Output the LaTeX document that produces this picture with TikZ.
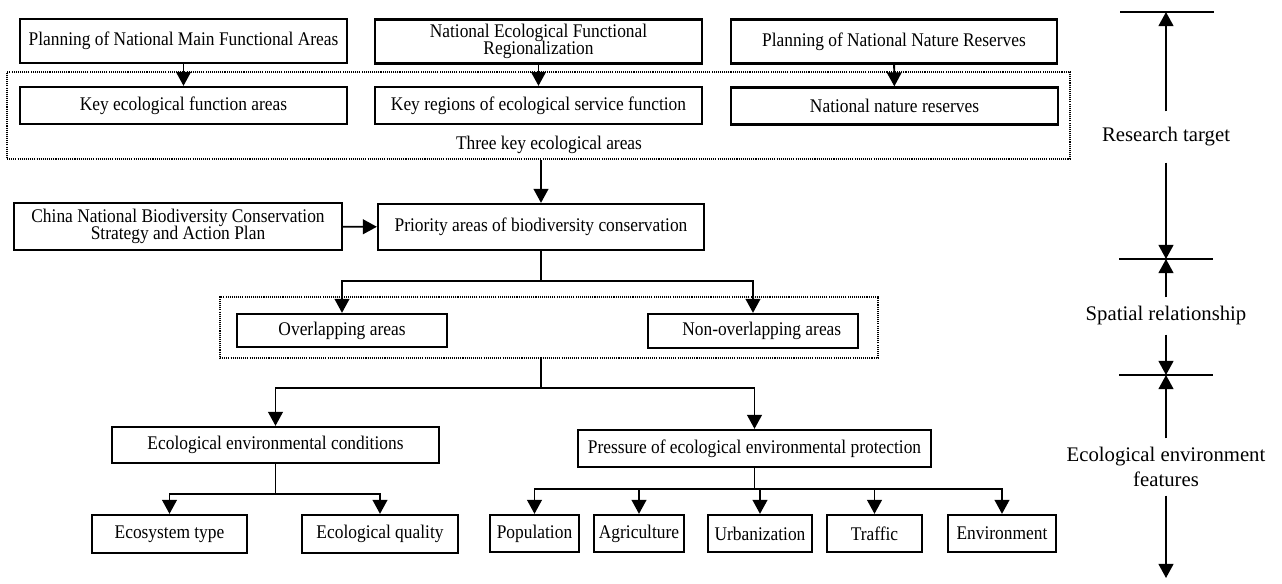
\documentclass[tikz,border=0pt]{standalone}
\usepackage{fontspec}
\setmainfont{Liberation Serif}[FakeStretch=0.9]
\newfontfamily\sidefont{Liberation Serif}
\usepackage{tikz}
\usetikzlibrary{arrows.meta, positioning, fit}

\begin{document}
\begin{tikzpicture}[
      x=0.02cm, y=-0.02cm,
      font=\fontsize{11}{13}\selectfont,
      box/.style={rectangle, draw=black, line width=1.3pt, align=center, inner sep=2pt},
      dotbox/.style={rectangle, draw=black, line width=0.7pt, dash pattern=on 0.6pt off 0.6pt, inner sep=0pt},
      arr/.style={-{Triangle[length=8pt, width=8.4pt]}, line width=1.1pt},
      link/.style={line width=1.1pt},
      tick/.style={line width=1.1pt},
      lbl/.style={inner sep=5pt, align=center, font=\sidefont\fontsize{11.8}{14}\selectfont},
    ]
    \useasboundingbox (0,0) rectangle (1282,583);

    % plans and the three key areas
    \node[box, minimum width=6.54cm, minimum height=0.88cm] (mainplan) at (183.5,41) {Planning of National Main Functional Areas};
    \node[box, minimum width=6.54cm, minimum height=0.88cm] (ecoreg) at (538.5,41.5) {National Ecological Functional\\[-3pt]Regionalization};
    \node[box, minimum width=6.52cm, minimum height=0.88cm] (reserveplan) at (894,41.5) {Planning of National Nature Reserves};
    \node[box, minimum width=6.54cm, minimum height=0.74cm] (keyfunc) at (183.5,105.5) {Key ecological function areas};
    \node[box, minimum width=6.54cm, minimum height=0.74cm] (keyserv) at (538.5,105.5) {Key regions of ecological service function};
    \node[box, minimum width=6.54cm, minimum height=0.74cm] (reserves) at (894.5,106) {National nature reserves};
    \node[dotbox, fit={(7,72) (1070,159)}] (three) {};
    \node (threelbl) at (549,145) {Three key ecological areas};

    \draw[arr] (mainplan) -- (keyfunc);
    \draw[arr] (ecoreg) -- (keyserv);
    \draw[arr] (reserveplan) -- (reserves);

    % priority areas
    \node[box, minimum width=6.52cm, minimum height=0.92cm] (priority) at (541,227) {Priority areas of biodiversity conservation};
    \node[box, minimum width=6.56cm, minimum height=0.94cm] (strategy) at (178,226.5) {China National Biodiversity Conservation\\[-3pt]Strategy and Action Plan};
    \draw[arr] (three.south -| priority) -- (priority);
    \draw[arr] (strategy) -- (priority);

    % spatial relationship
    \node[box, minimum width=4.2cm, minimum height=0.66cm] (overlap) at (342,330.5) {Overlapping areas};
    \node[box, minimum width=4.2cm, minimum height=0.68cm] (nonoverlap) at (753,331) {\hspace*{0.35cm}Non-overlapping areas};
    \node[dotbox, fit={(220,297) (878,358)}] (spatial) {};
    \draw[link] (priority.south) -- ++(0,30) coordinate (split1);
    \draw[arr] (split1) -| (overlap);
    \draw[arr] (split1) -| (nonoverlap);

    % ecological environment features
    \node[box, minimum width=6.54cm, minimum height=0.72cm] (condition) at (275.5,445) {Ecological environmental conditions};
    \node[box, minimum width=7.06cm, minimum height=0.74cm] (pressure) at (754.5,448.5) {Pressure of ecological environmental protection};
    \draw[link] (spatial.south -| priority) -- ++(0,29) coordinate (split2);
    \draw[arr] (split2) -| (condition);
    \draw[arr] (split2) -| (pressure);

    \node[box, minimum width=3.1cm, minimum height=0.76cm] (ecotype) at (169.5,534) {Ecosystem type};
    \node[box, minimum width=3.12cm, minimum height=0.76cm] (quality) at (380,534) {Ecological quality};
    \draw[link] (condition.south) -- ++(0,30) coordinate (split3);
    \draw[arr] (split3) -| (ecotype);
    \draw[arr] (split3) -| (quality);

    \node[box, minimum width=1.78cm, minimum height=0.74cm] (population) at (534.5,533.5) {Population};
    \node[box, minimum width=1.8cm, minimum height=0.74cm] (agriculture) at (639,533.5) {Agriculture};
    \node[box, minimum width=2.08cm, minimum height=0.74cm] (urban) at (760,533.5) {Urbanization};
    \node[box, minimum width=1.9cm, minimum height=0.74cm] (traffic) at (874.5,533.5) {Traffic};
    \node[box, minimum width=2.16cm, minimum height=0.74cm] (environment) at (1002,533.5) {Environment};
    \draw[link] (pressure.south) -- ++(0,21) coordinate (split4);
    \foreach \n in {population, agriculture, urban, traffic, environment}
      \draw[arr] (split4) -| (\n);

    % scale on the right
    \coordinate (lev0) at (1166,12);
    \coordinate (lev1) at (1166,259);
    \coordinate (lev2) at (1166,375);
    \coordinate (lev3) at (1166,578);
    \draw[tick] ([xshift=-0.92cm]lev0) -- ([xshift=0.96cm]lev0);
    \draw[tick] ([xshift=-0.94cm]lev1) -- ([xshift=0.94cm]lev1);
    \draw[tick] ([xshift=-0.94cm]lev2) -- ([xshift=0.94cm]lev2);

    \node[lbl, inner ysep=9pt] (target) at (1166,137) {Research target};
    \node[lbl] (relation) at (1166,316) {Spatial relationship};
    \node[lbl] (features) at (1166,467) {Ecological environment\\features};
    \draw[arr] (target) -- (lev0);
    \draw[arr] (target) -- (lev1);
    \draw[arr] (relation) -- (lev1);
    \draw[arr] (relation) -- (lev2);
    \draw[arr] (features) -- (lev2);
    \draw[arr] (features) -- (lev3);
  \end{tikzpicture}
\end{document}
